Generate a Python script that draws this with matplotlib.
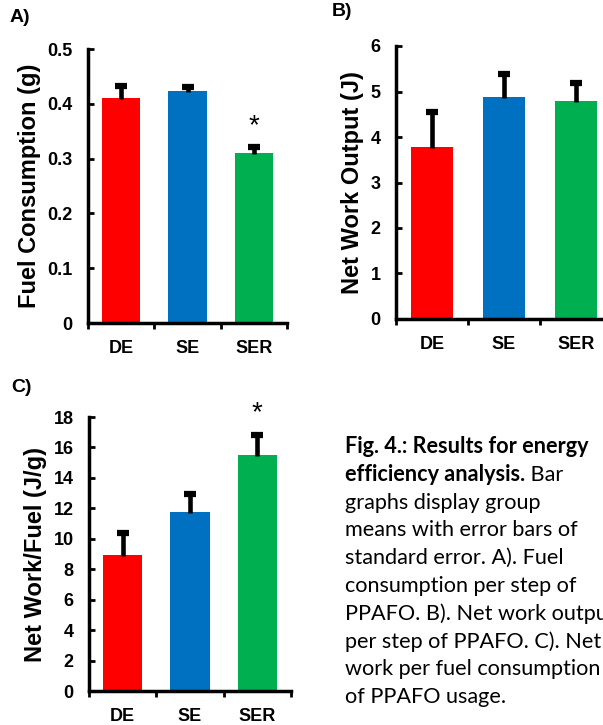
import matplotlib.pyplot as plt
from matplotlib.text import Annotation

groups = ["DE", "SE", "SER"]
colors = ["#ff0000", "#0070c0", "#00b050"]

fuel_mean = [0.411, 0.424, 0.311]
fuel_err = [0.022, 0.007, 0.010]

work_mean = [3.79, 4.89, 4.80]
work_err = [0.77, 0.49, 0.38]

ratio_mean = [8.95, 11.77, 15.52]
ratio_err = [1.42, 1.19, 1.30]

plt.rcParams['font.family'] = ['Liberation Sans', 'DejaVu Sans']

W, H = 603, 725
fig = plt.figure(figsize=(W / 100, H / 100), dpi=100)


def px_axes(left, top, right, bottom):
    return fig.add_axes([left / W, 1 - bottom / H, (right - left) / W, (bottom - top) / H])


def bar_panel(ax, means, errs, ymax, step, ylabel, fmt, star=None):
    x = list(range(len(groups)))
    tops = [m + e for m, e in zip(means, errs)]
    ax.bar(x, means, width=0.58, color=colors, zorder=2)
    # upper error bars only, with a thick block cap
    ax.vlines(x, [m - ymax * 0.005 for m in means], tops, color='black', lw=3.3, zorder=3)
    ax.plot(x, tops, ls='none', marker='_', ms=9, mew=4.5, color='black', zorder=3,
            clip_on=False)
    ax.set_xlim(-0.5, len(groups) - 0.5)
    ax.set_ylim(0, ymax)
    ticks = [i * step for i in range(int(round(ymax / step)) + 1)]
    ax.set_yticks(ticks)
    ax.set_yticklabels([fmt(t) for t in ticks], fontsize=13, fontweight='bold')
    ax.set_xticks([i + 0.5 for i in range(-1, len(groups))])
    ax.set_xticklabels([])
    ax.set_xticks(x, minor=True)
    ax.set_xticklabels(groups, minor=True, fontsize=13, fontweight='bold')
    ax.tick_params(axis='x', which='minor', length=0, pad=12)
    ax.tick_params(axis='x', which='major', length=4, width=2, direction='out')
    ax.tick_params(axis='y', length=4, width=2, direction='in', pad=11)
    for s in ['top', 'right']:
        ax.spines[s].set_visible(False)
    for s in ['left', 'bottom']:
        ax.spines[s].set_linewidth(2.5)
    ax.set_ylabel(ylabel, fontsize=17, fontweight='bold', labelpad=5)
    if star is not None:
        ax.annotate("*", xy=(star, tops[star]), xytext=(0, 6), textcoords='offset points',
                    ha='center', va='bottom', fontsize=20)


axA = px_axes(88, 49, 287, 323)
bar_panel(axA, fuel_mean, fuel_err, 0.5, 0.1, "Fuel Consumption (g)",
          lambda t: "0" if t == 0 else f"{t:.1f}", star=2)

axB = px_axes(396, 46, 612, 319)
bar_panel(axB, work_mean, work_err, 6, 1, "Net Work Output (J)",
          lambda t: f"{t:.0f}")

axC = px_axes(89, 417, 291, 691)
bar_panel(axC, ratio_mean, ratio_err, 18, 2, "Net Work/Fuel (J/g)",
          lambda t: f"{t:.0f}", star=2)

fig.text(10 / W, 1 - 22 / H, "A)", fontsize=14, fontweight='bold', va='baseline')
fig.text(332 / W, 1 - 16 / H, "B)", fontsize=14, fontweight='bold', va='baseline')
fig.text(11 / W, 1 - 392 / H, "C)", fontsize=14, fontweight='bold', va='baseline')

# caption
cap_x = 345 / W
cap_font = ['Lato', 'DejaVu Sans']
cap_size = 15.6
lines = [
    ("Fig. 4.: Results for energy", ""),
    ("efficiency analysis.", " Bar"),
    ("", "graphs display group"),
    ("", "means with error bars of"),
    ("", "standard error. A). Fuel"),
    ("", "consumption per step of"),
    ("", "PPAFO. B). Net work output"),
    ("", "per step of PPAFO. C). Net"),
    ("", "work per fuel consumption"),
    ("", "of PPAFO usage."),
]
y0 = 453
for i, (b, r) in enumerate(lines):
    y = 1 - (y0 + i * 27.8) / H
    if b:
        t = fig.text(cap_x, y, b, fontsize=cap_size, fontweight='bold', family=cap_font,
                     va='baseline')
        if r:
            fig.add_artist(Annotation(r, xy=(1, 0), xycoords=t, xytext=(0, 0),
                                      textcoords='offset points', va='bottom',
                                      fontsize=cap_size, family=cap_font))
    else:
        fig.text(cap_x, y, r, fontsize=cap_size, family=cap_font, va='baseline')

fig.savefig("out.png", dpi=100)
